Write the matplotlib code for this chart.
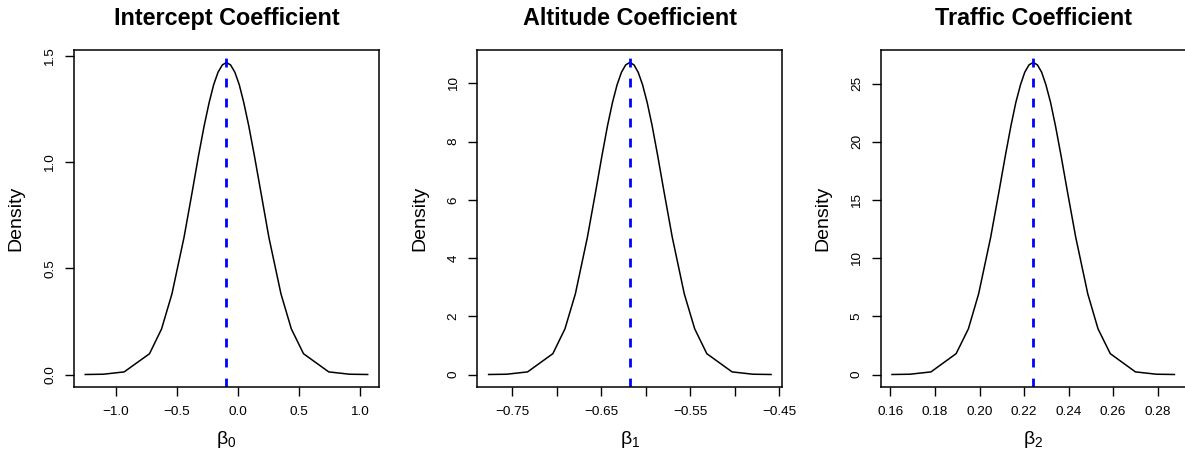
import matplotlib.pyplot as plt

plt.rcParams['font.family'] = ['Liberation Sans', 'DejaVu Sans']
plt.rcParams['mathtext.fontset'] = 'custom'
plt.rcParams['mathtext.rm'] = 'Liberation Sans'
plt.rcParams['mathtext.it'] = 'Liberation Sans'

# Posterior densities of the three coefficients (points along each curve)
b0_x = [-1.251, -1.102, -0.932, -0.724, -0.625, -0.540, -0.441, -0.374, -0.322, -0.276,
        -0.235, -0.198, -0.162, -0.127, -0.093, -0.059, -0.024, 0.012, 0.049, 0.090,
        0.136, 0.189, 0.255, 0.354, 0.439, 0.539, 0.746, 0.916, 1.065]
b0_y = [0.0002, 0.0015, 0.0124, 0.098, 0.215, 0.380, 0.646, 0.860, 1.031, 1.171,
        1.281, 1.365, 1.424, 1.458, 1.470, 1.458, 1.424, 1.365, 1.281, 1.171,
        1.031, 0.860, 0.646, 0.380, 0.215, 0.098, 0.0124, 0.0015, 0.0002]
b0_mean = -0.093

b1_x = [-0.7767, -0.7563, -0.7329, -0.7045, -0.6909, -0.6792, -0.6657, -0.6565, -0.6493, -0.6431,
        -0.6375, -0.6323, -0.6274, -0.6227, -0.6180, -0.6133, -0.6086, -0.6037, -0.5985, -0.5929,
        -0.5867, -0.5795, -0.5703, -0.5568, -0.5451, -0.5315, -0.5031, -0.4797, -0.4593]
b1_y = [0.0012, 0.0106, 0.0906, 0.717, 1.570, 2.771, 4.714, 6.268, 7.520, 8.542,
        9.345, 9.955, 10.382, 10.635, 10.72, 10.635, 10.382, 9.955, 9.345, 8.542,
        7.520, 6.268, 4.714, 2.771, 1.570, 0.717, 0.0906, 0.0106, 0.0012]
b1_mean = -0.618

b2_x = [0.1607, 0.1688, 0.1782, 0.1895, 0.1950, 0.1996, 0.2050, 0.2087, 0.2116, 0.2141,
        0.2163, 0.2184, 0.2203, 0.2222, 0.2241, 0.2260, 0.2279, 0.2298, 0.2319, 0.2341,
        0.2366, 0.2395, 0.2432, 0.2486, 0.2532, 0.2587, 0.2700, 0.2794, 0.2875]
b2_y = [0.0030, 0.0266, 0.2267, 1.795, 3.931, 6.936, 11.797, 15.687, 18.821, 21.378,
        23.388, 24.914, 25.985, 26.618, 26.83, 26.618, 25.985, 24.914, 23.388, 21.378,
        18.821, 15.687, 11.797, 6.936, 3.931, 1.795, 0.2267, 0.0266, 0.0030]
b2_mean = 0.2241

titles = ['Intercept Coefficient', 'Altitude Coefficient', 'Traffic Coefficient']
xlabels = [r'$\beta_0$', r'$\beta_1$', r'$\beta_2$']
xticks = [[-1.0, -0.5, 0.0, 0.5, 1.0],
          [-0.75, -0.70, -0.65, -0.60, -0.55, -0.50, -0.45],
          [0.16, 0.18, 0.20, 0.22, 0.24, 0.26, 0.28]]
xticklabels = [['\u22121.0', '\u22120.5', '0.0', '0.5', '1.0'],
               ['\u22120.75', '', '\u22120.65', '', '\u22120.55', '', '\u22120.45'],
               ['0.16', '0.18', '0.20', '0.22', '0.24', '0.26', '0.28']]
yticks = [[0.0, 0.5, 1.0, 1.5], [0, 2, 4, 6, 8, 10], [0, 5, 10, 15, 20, 25]]
yticklabels = [['0.0', '0.5', '1.0', '1.5'],
               ['0', '2', '4', '6', '8', '10'],
               ['0', '5', '10', '15', '20', '25']]

xs = [b0_x, b1_x, b2_x]
ys = [b0_y, b1_y, b2_y]
means = [b0_mean, b1_mean, b2_mean]

fig = plt.figure(figsize=(11.85, 4.55), dpi=100)
lefts = [0.0624, 0.4028, 0.7432]

for i in range(3):
    ax = fig.add_axes([lefts[i], 0.1495, 0.2574, 0.7407])
    ax.plot(xs[i], ys[i], color='black', lw=1.1)
    ax.margins(x=0.04, y=0.04)
    ax.axvline(means[i], color='#0000ff', lw=2.0, linestyle=(0, (3.2, 4.0)))

    ax.set_xticks(xticks[i])
    ax.set_xticklabels(xticklabels[i])
    ax.set_yticks(yticks[i])
    ax.set_yticklabels(yticklabels[i])
    for lab in ax.get_yticklabels():
        lab.set_rotation(90)
        lab.set_va('center')
    ax.tick_params(direction='out', length=6.8, width=1.0, labelsize=9.7, pad=6)
    ax.tick_params(axis='x', pad=7)

    for s in ax.spines.values():
        s.set_linewidth(1.1)

    ax.set_title(titles[i], fontsize=16.8, fontweight='bold', pad=18)
    ax.set_ylabel('Density', fontsize=14, labelpad=14)
    ax.set_xlabel(xlabels[i], fontsize=14, labelpad=8)

plt.savefig('out.png', dpi=100)
